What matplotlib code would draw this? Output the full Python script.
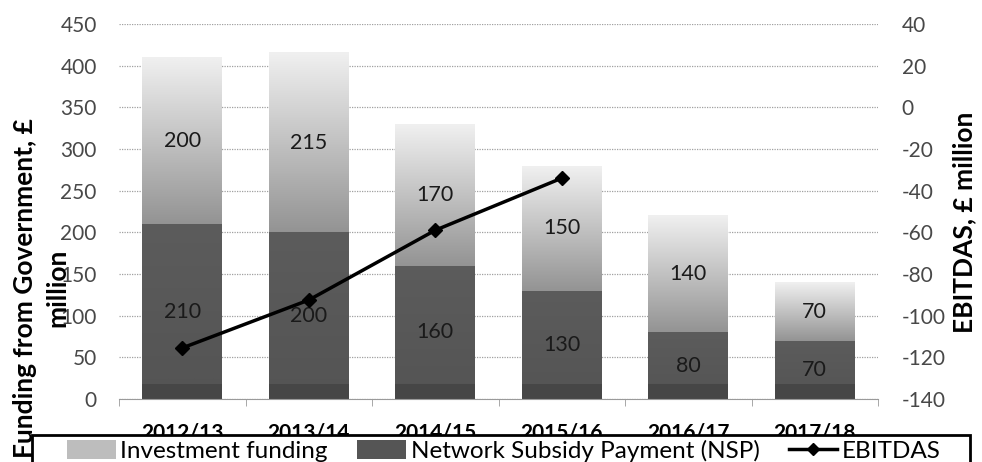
import numpy as np
import matplotlib.pyplot as plt
from matplotlib.patches import Patch, Rectangle
from matplotlib.lines import Line2D

plt.rcParams['font.family'] = ['Lato', 'DejaVu Sans']
plt.rcParams['axes.unicode_minus'] = False

years = ['2012/13', '2013/14', '2014/15', '2015/16', '2016/17', '2017/18']
nsp = [210, 200, 160, 130, 80, 70]
investment = [200, 215, 170, 150, 140, 70]
ebitdas = [-115.5, -92.5, -59, -34]

W, H = 982, 462
fig = plt.figure(figsize=(W / 100, H / 100), dpi=100)
ax = fig.add_axes([119 / W, (H - 399) / H, (878 - 119) / W, (399 - 24) / H])
ax2 = ax.twinx()

x = np.arange(len(years))
bw = 0.63


def gradient_bar(xc, y0, y1, top, bottom, z=2):
    # vertical gray ramp from bottom colour to top colour
    g = np.linspace(0, 1, 64)[:, None]
    c = bottom + (top - bottom) * g
    img = np.dstack([c, c, c])
    ax.imshow(img, extent=[xc - bw / 2, xc + bw / 2, y0, y1], origin='lower',
              aspect='auto', interpolation='bicubic', zorder=z)


for i in x:
    # network subsidy payment, dark with a darker strip at the base
    gradient_bar(i, 0, nsp[i], 0.36, 0.33)
    ax.add_patch(Rectangle((i - bw / 2, 0), bw, 18, color='#464646', zorder=2.1, lw=0))
    # investment funding stacked on top
    gradient_bar(i, nsp[i], nsp[i] + investment[i], 0.94, 0.58)
    ax.text(i, nsp[i] / 2, str(nsp[i]), ha='center', va='center', fontsize=15.5,
            color='#1a1a1a', zorder=4)
    ax.text(i, nsp[i] + investment[i] / 2, str(investment[i]), ha='center',
            va='center', fontsize=15.5, color='#1a1a1a', zorder=4)

ax.set_xlim(-0.5, len(years) - 0.5)
ax.set_ylim(0, 450)
ax.set_yticks(np.arange(0, 451, 50))
ax.grid(axis='y', color='#a0a0a0', linestyle=(0, (1, 1)), linewidth=0.9, zorder=0)
ax.set_axisbelow(True)
ax.set_xticks(x)
ax.set_xticklabels(years, fontweight='bold', fontsize=15)
ax.set_xticks(np.arange(-0.5, len(years)), minor=True)
ax.tick_params(axis='x', which='major', length=0, pad=17)
ax.tick_params(axis='x', which='minor', length=5, color='#9a9a9a')
ax.tick_params(axis='y', length=0, labelsize=15, labelcolor='#484848', pad=16)
for s in ['left', 'right', 'top']:
    ax.spines[s].set_visible(False)
    ax2.spines[s].set_visible(False)
ax.spines['bottom'].set_color('#9a9a9a')
ax2.spines['bottom'].set_visible(False)

ax2.plot(x[:len(ebitdas)], ebitdas, color='black', lw=2.5, marker='D',
         markersize=7, zorder=5)
ax2.set_ylim(-140, 40)
ax2.set_yticks(np.arange(-140, 41, 20))
ax2.tick_params(axis='y', length=0, labelsize=15, labelcolor='#484848', pad=17)

# left axis title, set as two rotated lines
fig.text(25 / W, 1 - 288 / H, 'Funding from Government, £', rotation=90,
         ha='center', va='center', fontsize=19, fontweight='bold')
fig.text(57 / W, 1 - 288 / H, 'million', rotation=90,
         ha='center', va='center', fontsize=19, fontweight='bold')
fig.text(964 / W, 1 - 222 / H, 'EBITDAS, £ million', rotation=90, ha='center',
         va='center', fontsize=19, fontweight='bold')

# legend box along the bottom edge
fig.patches.append(Rectangle((32 / W, -0.05), (970 - 32) / W, (H - 435) / H + 0.05,
                             transform=fig.transFigure, facecolor='white',
                             edgecolor='black', lw=2, zorder=10))
handles = [Patch(facecolor='#bdbdbd', edgecolor='none'),
           Patch(facecolor='#555555', edgecolor='none'),
           Line2D([], [], color='black', lw=2.5, marker='D', markersize=6)]
labels = ['Investment funding', 'Network Subsidy Payment (NSP)', 'EBITDAS']
leg = fig.legend(handles, labels, loc='center', bbox_to_anchor=(504 / W, (H - 451) / H),
                 ncol=3, frameon=False, fontsize=17.5, handlelength=2.0,
                 handleheight=0.8, handletextpad=0.2, columnspacing=1.2)
leg.set_zorder(11)

fig.savefig('out.png', dpi=100)
